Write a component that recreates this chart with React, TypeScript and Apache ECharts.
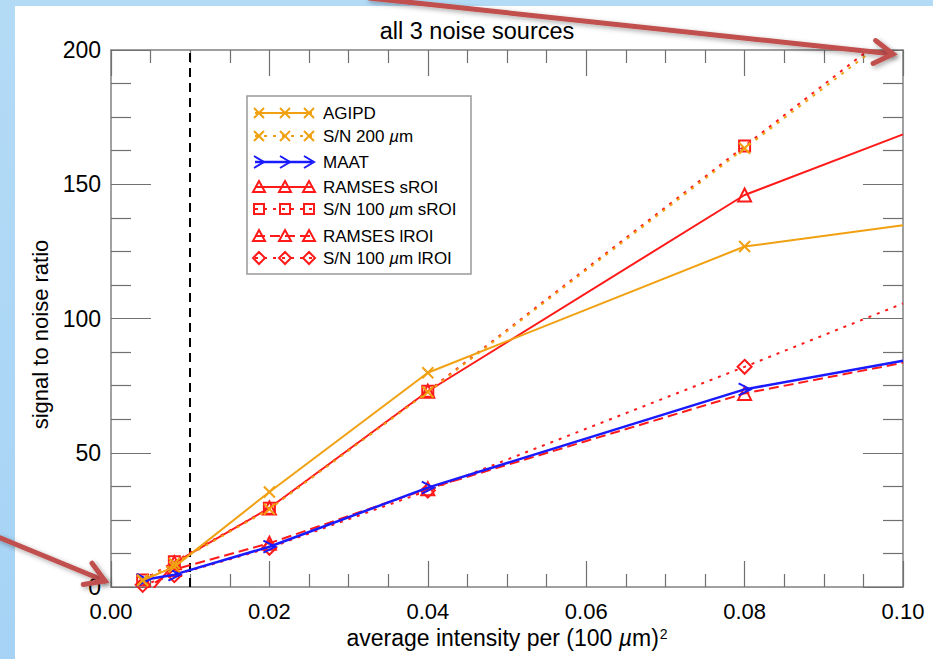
import React, { useEffect, useRef } from "react";
import * as echarts from "echarts";

// ---------------- data ----------------
const intensity = [0.004, 0.008, 0.02, 0.04, 0.08, 0.1];
const agipd = [2.5, 7.5, 35.4, 79.8, 126.8, 134.7];
const sn200 = [2.4, 8.8, 29.0, 72.6, 163.4, 208.5];
const maat = [2.6, 4.6, 15.0, 37.0, 73.6, 84.3];
const ramsesS = [-5.5, 9.0, 29.4, 72.9, 146.0, 168.6];
const sn100S = [2.6, 9.4, 29.3, 72.9, 164.2, 210.0];
const ramsesL = [-1.5, 6.5, 16.3, 36.6, 72.1, 83.5];
const sn100L = [0.8, 4.4, 14.6, 35.9, 82.0, 105.6];
const thresholdIntensity = 0.01;
const xMin = 0, xMax = 0.1, xStep = 0.02;
const yMin = 0, yMax = 200, yStep = 50;
const titleText = "all 3 noise sources";
const yName = "signal to noise ratio";

const FONT = "'Liberation Sans', Arial, Helvetica, sans-serif";
const ORANGE = "#f0a010";
const RED = "#ff1a1a";
const BLUE = "#1a1aff";
const DOT: number[] = [3, 6];
const DASH: number[] = [10, 5];

const SYM = {
  x: "path://M0,0L10,10M10,0L0,10",
  chev: "path://M0,0L10,5L0,10",
  tri: "path://M5,0L10,9L0,9Z",
  sq: "path://M0,0L10,0L10,10L0,10Z",
  dia: "path://M5,0L10,5L5,10L0,5Z",
};

type Entry = { label: string; ys: number[]; color: string; dash: any; mk: keyof typeof SYM; size: number; width: number };
const entries: Entry[] = [
  { label: "AGIPD", ys: agipd, color: ORANGE, dash: "solid", mk: "x", size: 11, width: 2 },
  { label: "S/N 200 {i|µ}m", ys: sn200, color: ORANGE, dash: DOT, mk: "x", size: 11, width: 2 },
  { label: "MAAT", ys: maat, color: BLUE, dash: "solid", mk: "chev", size: 12, width: 2.5 },
  { label: "RAMSES sROI", ys: ramsesS, color: RED, dash: "solid", mk: "tri", size: 13, width: 2 },
  { label: "S/N 100 {i|µ}m sROI", ys: sn100S, color: RED, dash: DOT, mk: "sq", size: 11, width: 2 },
  { label: "RAMSES lROI", ys: ramsesL, color: RED, dash: DASH, mk: "tri", size: 13, width: 2 },
  { label: "S/N 100 {i|µ}m lROI", ys: sn100L, color: RED, dash: DOT, mk: "dia", size: 14, width: 2 },
];

// legend layout
const LEG = { x: 247, y: 96, w: 224, h: 178, lineX0: 255, lineX1: 312, mkX: [259, 285, 309], textX: 323 };
const legRowY = [113, 136, 162, 187, 209, 236, 258];

function legendMarker(kind: string, cx: number, cy: number, color: string): any[] {
  const st = { stroke: color, lineWidth: 2, fill: "none" };
  if (kind === "x")
    return [
      { type: "line", shape: { x1: cx - 5, y1: cy - 5, x2: cx + 5, y2: cy + 5 }, style: st },
      { type: "line", shape: { x1: cx + 5, y1: cy - 5, x2: cx - 5, y2: cy + 5 }, style: st },
    ];
  if (kind === "chev") return [{ type: "polyline", shape: { points: [[cx - 5, cy - 6], [cx + 5, cy], [cx - 5, cy + 6]] }, style: st }];
  if (kind === "tri") return [{ type: "polygon", shape: { points: [[cx, cy - 6], [cx + 6, cy + 5], [cx - 6, cy + 5]] }, style: st }];
  if (kind === "sq") return [{ type: "polygon", shape: { points: [[cx - 5, cy - 5], [cx + 5, cy - 5], [cx + 5, cy + 5], [cx - 5, cy + 5]] }, style: st }];
  return [{ type: "polygon", shape: { points: [[cx, cy - 6], [cx + 6, cy], [cx, cy + 6], [cx - 6, cy]] }, style: st }];
}

function arrow(x1: number, y1: number, x2: number, y2: number): any[] {
  const a = Math.atan2(y2 - y1, x2 - x1);
  const L = 22, s = 0.55;
  const p1 = [x2 - L * Math.cos(a - s), y2 - L * Math.sin(a - s)];
  const p2 = [x2 - L * Math.cos(a + s), y2 - L * Math.sin(a + s)];
  const st = { stroke: "#c0504d", lineWidth: 5, fill: "none", lineCap: "round", lineJoin: "miter", shadowBlur: 5, shadowColor: "rgba(0,0,0,0.35)", shadowOffsetX: 2, shadowOffsetY: 2 };
  return [
    { type: "line", z: 100, shape: { x1, y1, x2, y2 }, style: st },
    { type: "polyline", z: 100, shape: { points: [p1, [x2, y2], p2] }, style: st },
  ];
}

export default function App() {
  const ref = useRef<HTMLDivElement>(null);
  useEffect(() => {
    if (!ref.current) return;
    const chart = echarts.init(ref.current, null, { renderer: "svg" });
    const axisLine = { show: true, onZero: false, lineStyle: { color: "#808080", width: 1.5 } };
    const tickStyle = { color: "#707070", width: 1.2 };
    const xAxisBase = {
      type: "value", min: xMin, max: xMax, interval: xStep,
      axisLine, splitLine: { show: false },
      axisTick: { inside: true, length: 26, lineStyle: tickStyle },
      minorTick: { show: true, splitNumber: 4, length: 13, lineStyle: tickStyle },
    };
    const yAxisBase = {
      type: "value", min: yMin, max: yMax, interval: yStep,
      axisLine, splitLine: { show: false },
      axisTick: { inside: true, length: 40, lineStyle: tickStyle },
      minorTick: { show: true, splitNumber: 4, length: 20, lineStyle: tickStyle },
    };
    const series: any[] = entries.map((e, idx) => ({
      name: e.label,
      type: "line",
      xAxisIndex: 0,
      yAxisIndex: 0,
      clip: true,
      z: 10 - idx,
      symbol: SYM[e.mk],
      symbolSize: e.size,
      data: intensity.map((x, i) =>
        i === intensity.length - 1 ? { value: [x, e.ys[i]], symbolSize: 0 } : [x, e.ys[i]]
      ),
      lineStyle: { color: e.color, width: e.width, type: e.dash },
      itemStyle: { color: "rgba(0,0,0,0)", borderColor: e.color, borderWidth: 2 },
      emphasis: { disabled: true },
    }));
    series[0].markLine = {
      silent: true,
      symbol: "none",
      label: { show: false },
      lineStyle: { color: "#000", type: [9, 6], width: 2 },
      data: [{ xAxis: thresholdIntensity }],
    };

    const legendEls: any[] = [
      { type: "rect", shape: { x: LEG.x, y: LEG.y, width: LEG.w, height: LEG.h }, style: { fill: "#fff", stroke: "#999", lineWidth: 1.5 }, z: 50 },
    ];
    entries.forEach((e, i) => {
      const y = legRowY[i];
      legendEls.push({
        type: "line", z: 51,
        shape: { x1: LEG.lineX0, y1: y, x2: LEG.lineX1, y2: y },
        style: { stroke: e.color, lineWidth: e.width, lineDash: e.dash === "solid" ? null : e.dash },
      });
      LEG.mkX.forEach((mx) => legendMarker(e.mk, mx, y, e.color).forEach((el) => legendEls.push({ ...el, z: 52 })));
      legendEls.push({
        type: "text", z: 52, x: LEG.textX, y,
        style: {
          text: e.label, fill: "#000", fontSize: 17, fontFamily: FONT, verticalAlign: "middle", align: "left",
          rich: { i: { fontStyle: "italic", fontSize: 17, fontFamily: FONT, fill: "#000" } },
        },
      });
    });

    chart.setOption({
      animation: false,
      backgroundColor: "transparent",
      grid: { left: 111, right: 30, top: 50, bottom: 72, containLabel: false },
      xAxis: [
        {
          ...xAxisBase, position: "bottom",
          axisLabel: { margin: 13, fontSize: 22, color: "#000", fontFamily: FONT, formatter: (v: number) => v.toFixed(2) },
          name: "{n|average intensity per (100 }{i|µ}{n|m)}{s|2}",
          nameLocation: "middle", nameGap: 38,
          nameTextStyle: {
            color: "#000", fontSize: 23, fontFamily: FONT,
            rich: {
              n: { fontSize: 23, fontFamily: FONT, color: "#000" },
              i: { fontSize: 23, fontFamily: FONT, color: "#000", fontStyle: "italic" },
              s: { fontSize: 14, fontFamily: FONT, color: "#000", verticalAlign: "top", padding: [0, 0, 8, 1] },
            },
          },
        },
        { ...xAxisBase, position: "top", axisLabel: { show: false } },
      ],
      yAxis: [
        {
          ...yAxisBase, position: "left",
          axisLabel: { margin: 10, fontSize: 23, color: "#000", fontFamily: FONT },
          name: yName, nameLocation: "middle", nameGap: 56,
          nameTextStyle: { color: "#000", fontSize: 22, fontFamily: FONT, padding: [0, 32, 0, 0] },
        },
        { ...yAxisBase, position: "right", axisLabel: { show: false } },
      ],
      series,
      graphic: [
        { type: "text", x: 477, y: 31, z: 50, style: { text: titleText, fill: "#000", fontSize: 23.5, fontFamily: FONT, align: "center", verticalAlign: "middle" } },
        ...legendEls,
        ...arrow(369, -2, 893, 54),
        ...arrow(-2, 537, 105, 581),
      ],
    });
    return () => chart.dispose();
  }, []);

  return (
    <div style={{ position: "fixed", left: 0, top: 0, width: 933, height: 659, background: "linear-gradient(180deg, #b4dbf6 0%, #a6d3f5 100%)", overflow: "hidden" }}>
      <div style={{ position: "absolute", left: 15, top: 6, width: 918, height: 653, background: "#ffffff" }} />
      <div ref={ref} style={{ position: "absolute", left: 0, top: 0, width: 933, height: 659 }} />
    </div>
  );
}
